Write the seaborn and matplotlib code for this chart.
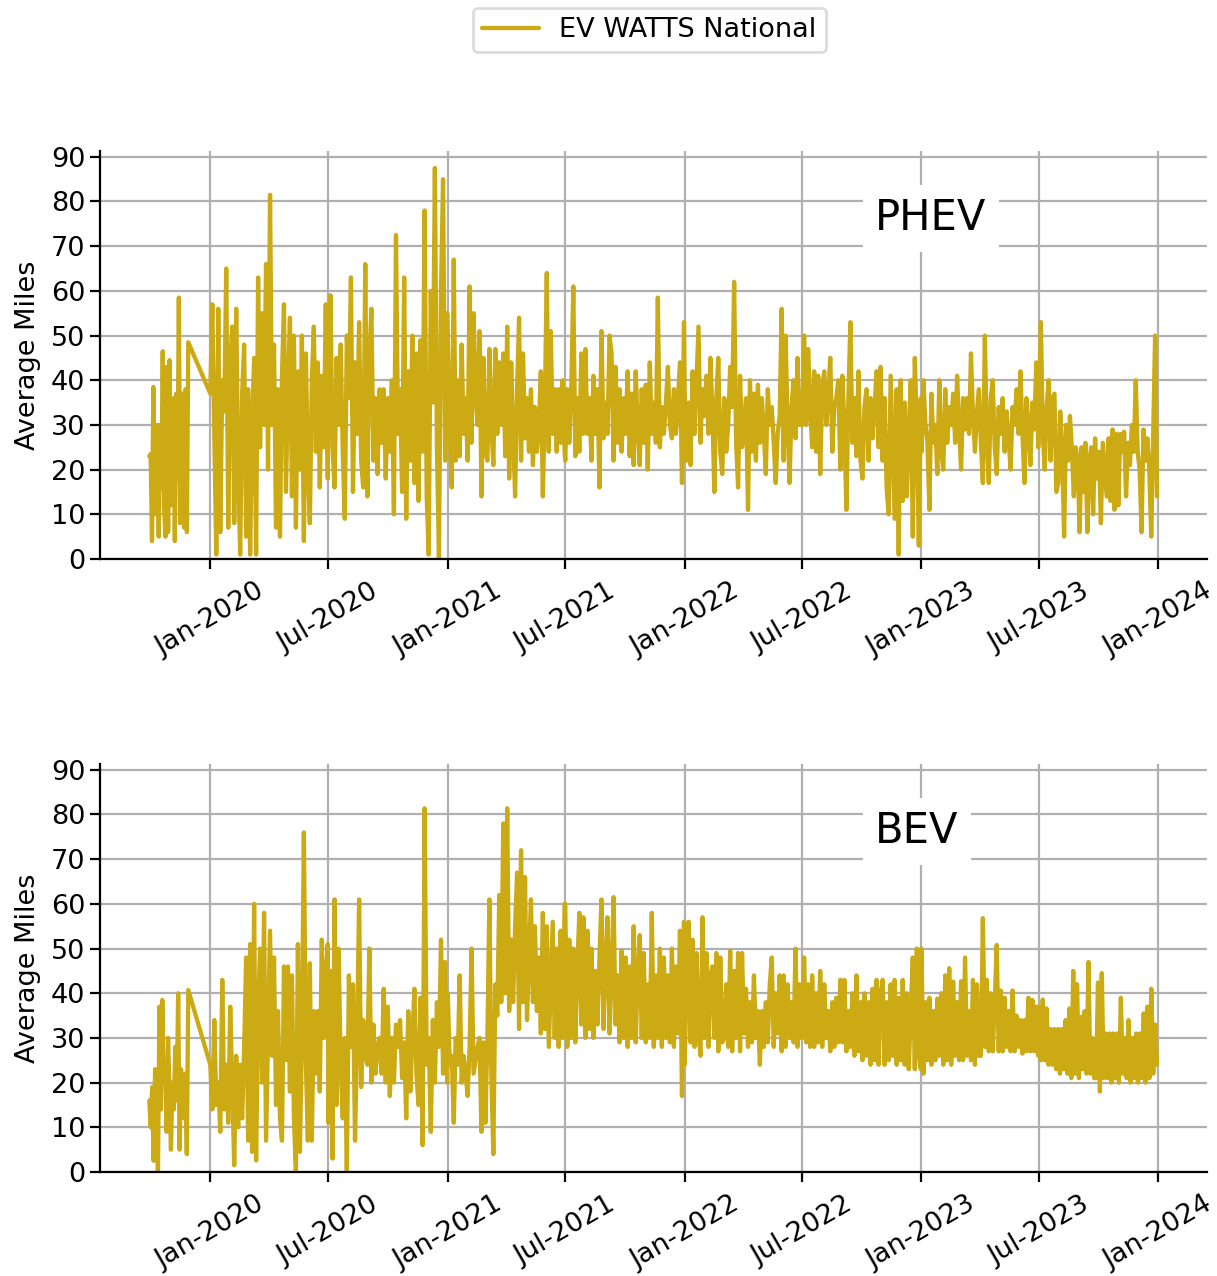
import numpy as np
import pandas as pd
import matplotlib
matplotlib.use("Agg")
import matplotlib.pyplot as plt
import matplotlib.dates as mdates
import seaborn as sns

SERIES_NAME = "EV WATTS National"
PANELS = ["PHEV", "BEV"]
TICK_DATES = ["2020-01-01", "2020-07-01", "2021-01-01", "2021-07-01", "2022-01-01",
              "2022-07-01", "2023-01-01", "2023-07-01", "2024-01-01"]
Y_TICKS = [0, 10, 20, 30, 40, 50, 60, 70, 80, 90]
# each entry of PERIODS is the date span that the same-numbered value list covers
PERIODS = [("2019-09-29", "2019-11-28"), ("2020-01-01", "2020-06-30"), ("2020-07-01", "2020-12-31"),
           ("2021-01-01", "2021-06-30"), ("2021-07-01", "2021-12-31"), ("2022-01-01", "2022-06-30"),
           ("2022-07-01", "2022-12-31"), ("2023-01-01", "2023-06-30"), ("2023-07-01", "2023-12-30")]

phev_2019 = [23, 23.5, 4, 38.5, 10, 22, 30, 5, 30, 16, 46.5, 12, 5, 43, 6, 44.5, 12, 18, 36, 4,
             37, 18, 58.5, 8, 37, 20, 7, 38, 6, 48.5]
phev_2020a = [37, 57, 28, 1, 56, 6, 40, 33, 65, 7,
              44, 52, 8, 56, 20, 1, 37, 48, 5, 38,
              1, 30, 45, 1, 63, 25, 55, 30, 66, 20,
              81.5, 30, 48, 7, 38, 5, 41, 57, 15, 38,
              54, 14, 50, 7, 42, 20, 50, 4, 46, 21,
              8, 40, 52, 24, 44, 16, 41, 25, 57, 18]
phev_2020b = [40, 59, 25, 16, 45, 30, 48, 24, 9, 50,
              36, 63, 15, 44, 28, 53, 22, 16, 66, 14,
              45, 56, 22, 36, 19, 38, 26, 38, 18, 36,
              24, 40, 10, 72.5, 28, 38, 15, 63, 9, 42,
              22, 50, 17, 46, 13, 49, 24, 78, 14, 1,
              60, 35, 87.5, 25, 0, 60, 85, 22, 55]
phev_2021a = [50, 28, 16, 67, 22, 40, 23, 48, 28, 36,
              22, 61, 26, 55, 38, 30, 51, 14, 45, 24,
              22, 47, 30, 21, 47, 28, 44, 30, 46, 23,
              52, 18, 44, 28, 14, 38, 54, 22, 46, 27,
              36, 24, 38, 21, 34, 24, 30, 42, 14, 34,
              64, 24, 51, 28, 38, 24, 38, 26, 40, 24]
phev_2021b = [22, 38, 26, 38, 61, 23, 36, 24, 46, 28,
              47, 28, 36, 22, 41, 28, 38, 16, 51, 27,
              35, 28, 50, 46, 22, 43, 26, 38, 24, 36,
              28, 42, 23, 37, 21, 42, 30, 21, 38, 26,
              39, 20, 44, 28, 35, 26, 58.5, 25, 34, 28,
              35, 43, 30, 27, 38, 28, 36, 44, 17, 53]
phev_2022a = [38, 22, 35, 21, 42, 28, 40, 52, 26, 38,
              32, 41, 28, 45, 33, 15, 36, 45, 24, 19,
              36, 24, 30, 43, 34, 62, 26, 16, 41, 25,
              30, 36, 11, 40, 24, 37, 22, 39, 26, 36,
              28, 19, 38, 30, 34, 26, 17, 28, 32, 56,
              22, 50, 30, 17, 34, 40, 27, 45, 30, 36]
phev_2022b = [30, 50, 30, 47, 34, 25, 42, 24, 41, 19,
              38, 42, 30, 37, 45, 24, 34, 36, 40, 20,
              41, 30, 11, 36, 53, 26, 36, 23, 42, 22,
              18, 34, 38, 22, 36, 27, 34, 42, 25, 43,
              22, 36, 16, 10, 41, 25, 9, 38, 1, 40,
              13, 35, 14, 28, 40, 5, 45, 30, 3, 36]
phev_2023a = [24, 40, 30, 26, 11, 37, 26, 30, 19, 40,
              24, 20, 38, 26, 34, 30, 37, 26, 41, 29,
              20, 36, 29, 36, 28, 46, 32, 24, 33, 38,
              26, 17, 50, 27, 17, 36, 40, 25, 19, 34,
              28, 36, 24, 33, 27, 20, 34, 30, 38, 28,
              42, 28, 17, 36, 30, 21, 35, 29, 44, 25]
phev_2023b = [32, 53, 28, 20, 34, 40, 22, 36, 37, 15,
              17, 33, 24, 5, 30, 22, 32, 25, 14, 25,
              22, 6, 25, 15, 26, 6, 22, 25, 10, 27,
              18, 24, 8, 26, 20, 14, 27, 13, 29, 11,
              28, 12, 28, 24, 28.5, 14, 26, 21, 30, 24,
              40, 24, 20, 6, 29, 22, 27, 20, 5, 27, 50, 14]

bev_2019 = [16, 10, 19, 2.5, 23, 12, 0, 37, 14, 38.5, 20, 24, 9, 30, 18, 5, 20, 14, 28, 16,
            40, 5, 23, 16, 12, 22, 4, 40.7]
bev_2020a = [24, 14, 34, 15, 20, 9, 43, 14, 24, 11,
             37, 20, 1.5, 26, 10, 24, 12, 28, 48, 7,
             51, 4.5, 60, 2.6, 36, 50, 20, 58, 7, 30,
             54, 26, 48, 15, 36, 12, 7, 46, 25, 46,
             18, 44, 12, 0, 51, 4.5, 30, 76, 25, 7,
             46.7, 7, 36, 22, 36, 18, 52, 30, 44, 51]
bev_2020b = [11, 45, 3, 61, 15, 50, 24, 12, 30, 0,
             44, 28, 42, 7, 30, 61, 19, 34, 26, 24,
             50, 20, 33, 22, 28, 30, 22, 41, 20, 37,
             17, 30, 20, 33, 28, 34, 21, 29, 12, 36,
             18, 30, 41, 22, 15, 39, 6, 81.4, 24, 30,
             9, 34, 20, 38, 28, 52, 22, 47, 20]
bev_2021a = [40, 24, 26, 11, 30, 24, 44, 20, 26, 22,
             17, 28, 50, 22, 25, 28, 30, 9, 29, 11,
             30, 61, 22, 4, 42, 35, 62, 38, 78, 40,
             81.4, 36, 52, 38, 55, 67, 32, 72, 38, 66,
             34, 48, 61, 38, 55, 36, 48, 31, 58, 32,
             55, 28, 42, 56, 30, 50, 28, 54, 30, 60]
bev_2021b = [60, 28, 52, 30, 50, 29, 46, 58, 33, 57,
             30, 54, 32, 50, 30, 45, 33, 48, 61, 32,
             46, 57, 31, 44, 61.5, 33, 44, 29, 49.5, 30,
             48, 28, 46, 30, 55, 29, 44, 53, 30, 49,
             29, 42, 30, 58, 28, 44, 30, 50, 28, 48,
             30, 44, 29, 50, 28, 46, 31, 54, 17, 56]
bev_2022a = [24, 42, 56, 29, 52, 28, 49, 31, 26, 57,
             30, 49, 28, 44, 46, 30, 49, 27, 48, 29,
             30, 42, 28, 49.5, 27, 45, 30, 49, 27, 49,
             31, 41, 28, 38, 29, 44, 30, 36, 24, 36,
             28, 38, 29, 42, 48, 28, 40, 31, 44, 27,
             44, 28, 42, 30, 38, 29, 50, 28, 42, 30]
bev_2022b = [30, 48, 29, 42, 28, 44, 28, 40, 29, 45,
             28, 42, 30, 36, 27, 38, 28, 39, 29, 43,
             29, 43, 27, 36, 28, 40, 26, 44, 27, 38,
             25, 40, 26, 38, 24, 41, 25, 43, 24, 40,
             43, 24, 38, 25, 42, 26, 43, 24, 39, 25,
             43, 24, 40, 23, 36, 48, 23, 50, 26, 23]
bev_2023a = [50, 22, 38, 25, 39, 24, 36, 25, 38.8, 26,
             40, 24, 44, 25, 45.6, 24, 42.6, 26, 38, 25,
             42.7, 25, 48, 26, 36, 25, 43, 24, 42, 26,
             26, 56.8, 28, 43, 27, 40, 27, 38, 50.8, 27,
             40.6, 27, 39, 28, 36, 27, 40.6, 27, 35, 28,
             34, 26.5, 34, 27, 39, 27, 38.5, 27, 37, 26]
bev_2023b = [37, 25, 38.6, 25, 36.6, 24, 32, 24, 32, 23,
             32, 22, 32, 23, 34, 22, 36.6, 21, 45, 22,
             42, 21, 34.7, 23, 36, 22, 47, 22, 30, 21,
             21, 42.4, 18, 44.5, 21, 31, 21, 31, 20, 31,
             21, 31, 20, 39, 22, 30, 21, 34, 20, 30,
             21, 31, 20, 31, 21, 35.5, 20, 37, 21, 41, 22, 33, 24]

PHEV_PARTS = [phev_2019, phev_2020a, phev_2020b, phev_2021a, phev_2021b,
              phev_2022a, phev_2022b, phev_2023a, phev_2023b]
BEV_PARTS = [bev_2019, bev_2020a, bev_2020b, bev_2021a, bev_2021b,
             bev_2022a, bev_2022b, bev_2023a, bev_2023b]


def build_frame(parts):
    frames = []
    for (start, end), values in zip(PERIODS, parts):
        frames.append(pd.DataFrame({
            "date": pd.date_range(start, end, periods=len(values)),
            "miles": values,
        }))
    return pd.concat(frames, ignore_index=True)


sns.set_style("ticks")
plt.rcParams["font.family"] = ["DejaVu Sans"]
plt.rcParams["text.color"] = "black"
W, H = 1217, 1276
fig = plt.figure(figsize=(W / 100, H / 100), dpi=100, facecolor="white")
COLOR = "#CBAA14"
BOXES = [(151, 559), (764, 1172)]

for (top, bottom), name, parts in zip(BOXES, PANELS, [PHEV_PARTS, BEV_PARTS]):
    ax = fig.add_axes([100 / W, 1 - bottom / H, (1207 - 100) / W, (bottom - top) / H])
    sns.lineplot(data=build_frame(parts), x="date", y="miles", ax=ax, color=COLOR,
                 linewidth=3.1, estimator=None, errorbar=None, sort=False, label=SERIES_NAME)
    ax.set_xlim(pd.Timestamp("2019-07-15"), pd.Timestamp("2024-03-16"))
    ax.set_ylim(0, 91.3)
    ax.set_yticks(Y_TICKS)
    ax.set_xticks(pd.to_datetime(TICK_DATES))
    ax.xaxis.set_major_formatter(mdates.DateFormatter("%b-%Y"))
    ax.grid(True, color="#b0b0b0", linewidth=1.6)
    ax.set_axisbelow(True)
    sns.despine(ax=ax)
    for s in ("left", "bottom"):
        ax.spines[s].set_linewidth(1.6)
        ax.spines[s].set_color("black")
    ax.tick_params(axis="both", labelsize=19.5, width=1.6, length=7, color="black", labelcolor="black")
    ax.tick_params(axis="x", labelrotation=30, pad=7)
    ax.set_xlabel("")
    ax.set_ylabel("Average Miles", fontsize=19.5, labelpad=7, color="black")
    ax.text((875 - 100) / (1207 - 100), 1 - 67 / (bottom - top),
            name, transform=ax.transAxes, fontsize=30, color="black", ha="left", va="center",
            bbox=dict(facecolor="white", edgecolor="none", pad=9), zorder=1.5)
    handles, labels = ax.get_legend_handles_labels()
    ax.get_legend().remove()

leg = fig.legend(handles, labels, loc="center", bbox_to_anchor=(649.5 / W, 1 - 30 / H),
                 fontsize=19.5, handlelength=2.1, handletextpad=0.75, frameon=True, borderpad=0.35)
leg.get_frame().set_edgecolor("0.83")
leg.get_frame().set_linewidth(2)
fig.savefig("out.png", dpi=100, facecolor="white")
